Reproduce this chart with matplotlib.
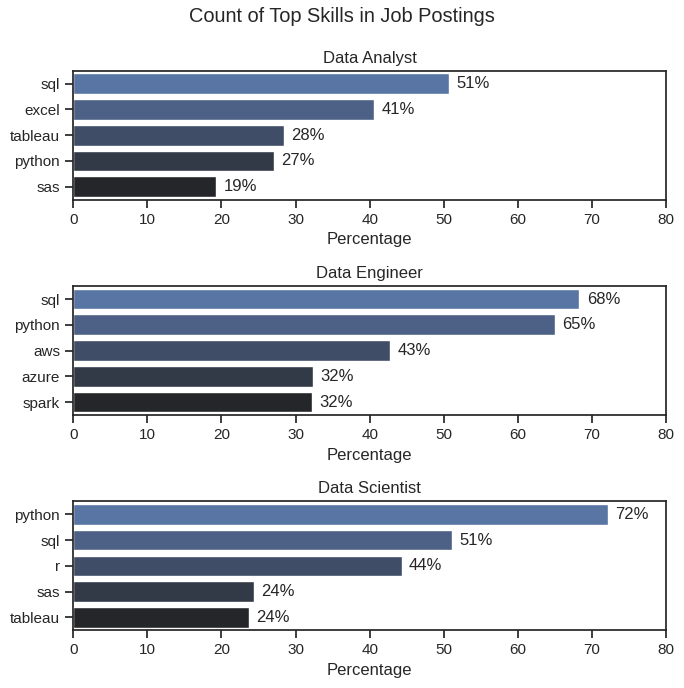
import matplotlib
matplotlib.use('Agg')
import matplotlib.pyplot as plt
import seaborn as sns
import pandas as pd

# Data
job_titles = ['Data Analyst', 'Data Engineer', 'Data Scientist']
analyst_skills = ['sql', 'excel', 'tableau', 'python', 'sas']
analyst_pct = [50.7, 40.6, 28.4, 27.1, 19.3]
engineer_skills = ['sql', 'python', 'aws', 'azure', 'spark']
engineer_pct = [68.3, 65.0, 42.8, 32.3, 32.2]
scientist_skills = ['python', 'sql', 'r', 'sas', 'tableau']
scientist_pct = [72.1, 51.1, 44.3, 24.4, 23.7]

skills = [analyst_skills, engineer_skills, scientist_skills]
pcts = [analyst_pct, engineer_pct, scientist_pct]

sns.set_theme(style='ticks')
plt.rcParams['font.family'] = ['Liberation Sans', 'DejaVu Sans']

fig, axes = plt.subplots(3, 1, figsize=(6.84, 6.88), dpi=100)

for i, title in enumerate(job_titles):
    df = pd.DataFrame({'skill': skills[i], 'skill_percent': pcts[i]})
    ax = axes[i]
    sns.barplot(data=df, x='skill_percent', y='skill', hue='skill',
                ax=ax, palette='dark:b_r', legend=False)
    ax.set_title(title)
    ax.set_ylabel('')
    ax.set_xlabel('Percentage')
    ax.set_xlim(0, 80)
    for n, v in enumerate(df['skill_percent']):
        ax.text(v + 1, n, f'{v:.0f}%', va='center')

fig.suptitle('Count of Top Skills in Job Postings', y=0.99)
fig.subplots_adjust(left=0.107, right=0.974, top=0.897, bottom=0.084, hspace=0.672)
fig.savefig('out.png')
